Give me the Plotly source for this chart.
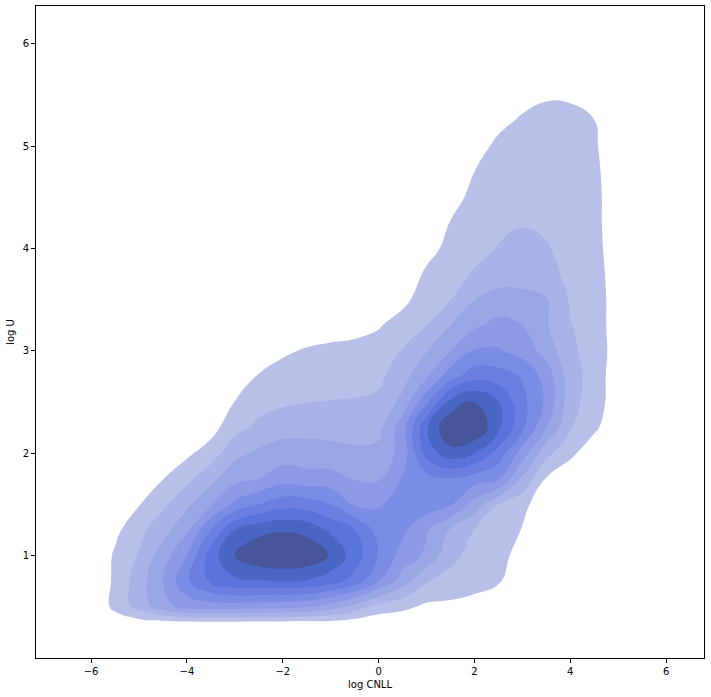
import plotly.graph_objects as go

# grid of the density surface (level units, 1..9 are the contour levels)
x_grid = [-6.5, -6.0, -5.5, -5.0, -4.5, -4.0, -3.5, -3.0, -2.5, -2.0, -1.5, -1.0, -0.5,
          0.0, 0.5, 1.0, 1.5, 2.0, 2.5, 3.0, 3.5, 4.0, 4.5, 5.0, 5.5, 6.0]
y_grid = [0.0, 0.25, 0.5, 0.75, 1.0, 1.25, 1.5, 1.75, 2.0, 2.25, 2.5, 2.75, 3.0,
          3.25, 3.5, 3.75, 4.0, 4.25, 4.5, 4.75, 5.0, 5.25, 5.5, 5.75]

d_000 = [0, 0, 0, 0, 0, 0, 0, 0, 0, 0, 0, 0, 0, 0, 0, 0, 0, 0, 0, 0, 0, 0, 0, 0, 0, 0]
d_025 = [0, 0, -0.3, -0.5, -1.2, -1.5, -1.5, -1.5, -1.5, -1.5, -1.5, -1.0, -0.8, -0.5, -0.3, 0, 0, 0, 0, 0, 0, 0, 0, 0, 0, 0]
d_050 = [0, 0, 1.3, 2.4, 3.6, 4.4, 4.5, 4.5, 4.4, 4.3, 4.1, 3.5, 2.6, 1.6, 1.25, 0.8, 0.75, 0.6, 0.2, 0, 0, 0, 0, 0, 0, 0]
d_075 = [0, 0, 1.2, 2.5, 4.05, 5.8, 7.2, 7.8, 7.9, 8.0, 7.9, 7.4, 6.6, 5.0, 3.5, 2.05, 1.7, 1.4, 1.1, 0.3, 0, 0, 0, 0, 0, 0]
d_100 = [0, 0, 1.15, 2.1, 3.5, 5.0, 7.5, 9.0, 9.8, 10.0, 9.8, 8.9, 7.5, 5.9, 4.6, 3.8, 2.25, 1.7, 1.35, 0.6, 0, 0, 0, 0, 0, 0]
d_125 = [0, 0, 0.75, 1.7, 2.6, 3.8, 6.0, 8.0, 8.7, 8.9, 8.7, 7.8, 7.0, 5.6, 5.2, 4.1, 2.9, 1.95, 1.5, 0.95, 0.2, 0, 0, 0, 0, 0]
d_150 = [0, 0, 0.2, 0.95, 1.8, 2.8, 3.9, 5.3, 6.0, 6.6, 6.5, 6.0, 4.9, 4.9, 5.4, 5.6, 5.1, 3.6, 2.0, 1.3, 0.3, 0, 0, 0, 0, 0]
d_175 = [0, 0, 0, 0.3, 0.98, 1.75, 2.7, 3.7, 4.0, 4.6, 4.4, 4.4, 3.95, 3.9, 5.1, 5.6, 5.9, 5.5, 5.1, 2.8, 0.9, 0.2, 0, 0, 0, 0]
d_200 = [0, 0, 0, 0, 0.3, 0.8, 1.5, 2.7, 3.2, 3.5, 3.4, 3.3, 3.2, 3.3, 4.4, 7.4, 8.6, 8.0, 6.6, 4.5, 2.3, 1.25, 0.3, 0, 0, 0]
d_225 = [0, 0, 0, 0, 0, 0.1, 0.6, 1.7, 2.2, 2.6, 2.7, 2.7, 2.6, 2.7, 4.6, 7.9, 10.0, 10.0, 8.2, 6.2, 4.0, 2.1, 1.2, 0.2, 0, 0]
d_250 = [0, 0, 0, 0, 0, 0, 0, 1.03, 1.7, 1.85, 1.98, 2.03, 2.05, 2.2, 3.3, 5.8, 8.3, 9.1, 8.0, 6.3, 4.8, 2.35, 1.5, 0.4, 0, 0]
d_275 = [0, 0, 0, 0, 0, 0, 0, 0.3, 1.1, 1.4, 1.6, 1.7, 1.75, 1.8, 2.6, 3.9, 5.6, 6.6, 6.5, 5.9, 4.6, 2.45, 1.55, 0.4, 0, 0]
d_300 = [0, 0, 0, 0, 0, 0, 0, 0, 0.3, 0.85, 1.1, 1.25, 1.35, 1.5, 2.05, 2.95, 4.0, 5.1, 5.1, 4.6, 3.6, 2.2, 1.6, 0.5, 0, 0]
d_325 = [0, 0, 0, 0, 0, 0, 0, 0, 0, 0.2, 0.4, 0.5, 0.6, 0.9, 1.5, 2.0, 3.0, 3.8, 4.3, 4.0, 3.1, 2.05, 1.5, 0.5, 0, 0]
d_350 = [0, 0, 0, 0, 0, 0, 0, 0, 0, 0, 0, 0, 0, 0.1, 0.7, 1.6, 2.0, 3.0, 3.4, 3.3, 3.05, 1.9, 1.5, 0.5, 0, 0]
d_375 = [0, 0, 0, 0, 0, 0, 0, 0, 0, 0, 0, 0, 0, 0, 0.4, 1.15, 1.6, 2.1, 2.5, 2.6, 2.35, 1.75, 1.4, 0.5, 0, 0]
d_400 = [0, 0, 0, 0, 0, 0, 0, 0, 0, 0, 0, 0, 0, 0, 0, 0.7, 1.25, 1.7, 2.05, 2.25, 2.1, 1.6, 1.35, 0.4, 0, 0]
d_425 = [0, 0, 0, 0, 0, 0, 0, 0, 0, 0, 0, 0, 0, 0, 0, 0.2, 1.05, 1.5, 1.8, 1.95, 1.8, 1.5, 1.3, 0.35, 0, 0]
d_450 = [0, 0, 0, 0, 0, 0, 0, 0, 0, 0, 0, 0, 0, 0, 0, 0, 0.6, 1.3, 1.55, 1.65, 1.6, 1.45, 1.3, 0.35, 0, 0]
d_475 = [0, 0, 0, 0, 0, 0, 0, 0, 0, 0, 0, 0, 0, 0, 0, 0, 0.2, 1.0, 1.4, 1.5, 1.5, 1.4, 1.25, 0.3, 0, 0]
d_500 = [0, 0, 0, 0, 0, 0, 0, 0, 0, 0, 0, 0, 0, 0, 0, 0, 0, 0.55, 1.25, 1.4, 1.45, 1.35, 1.15, 0.2, 0, 0]
d_525 = [0, 0, 0, 0, 0, 0, 0, 0, 0, 0, 0, 0, 0, 0, 0, 0, 0, 0, 0.7, 1.15, 1.3, 1.25, 1.02, 0, 0, 0]
d_550 = [0, 0, 0, 0, 0, 0, 0, 0, 0, 0, 0, 0, 0, 0, 0, 0, 0, 0, 0, 0.6, 0.9, 0.88, 0.4, 0, 0, 0]
d_575 = [0, 0, 0, 0, 0, 0, 0, 0, 0, 0, 0, 0, 0, 0, 0, 0, 0, 0, 0, 0, 0, 0, 0, 0, 0, 0]

density = [d_000, d_025, d_050, d_075, d_100, d_125, d_150, d_175, d_200, d_225, d_250, d_275,
           d_300, d_325, d_350, d_375, d_400, d_425, d_450, d_475, d_500, d_525, d_550, d_575]

# fill colours, light -> dark
band_colors = ["#b8c0ea", "#aab3e8", "#9ba6e7", "#8c99e6", "#7b8ce4",
               "#6a7fe1", "#5873dc", "#4966c4", "#47569a"]

x_ticks = [-6, -4, -2, 0, 2, 4, 6]
y_ticks = [1, 2, 3, 4, 5, 6]

# below the first level stays white, each band gets its own colour
n = len(band_colors)
colorscale = [[0.0, "#ffffff"]] + [[(i + 1) / n, c] for i, c in enumerate(band_colors)]

fig = go.Figure()
fig.add_trace(go.Contour(
    x=x_grid, y=y_grid, z=density,
    autocontour=False,
    contours=dict(start=1, end=9, size=1, coloring="fill", showlines=False),
    colorscale=colorscale,
    line=dict(width=0, smoothing=1.3),
    showscale=False,
    hoverinfo="skip",
))

axis_style = dict(
    showgrid=False, zeroline=False, automargin=False,
    showline=True, linecolor="black", linewidth=1, mirror=True,
    ticks="outside", ticklen=4, tickwidth=1, tickcolor="black",
    tickfont=dict(size=10, color="black"),
)

fig.update_xaxes(range=[-7.15, 6.79], tickvals=x_ticks,
                 title=dict(text="log CNLL", font=dict(size=10, color="black"), standoff=4),
                 **axis_style)
fig.update_yaxes(range=[0, 6.37], tickvals=y_ticks,
                 title=dict(text="log U", font=dict(size=10, color="black"), standoff=6),
                 **axis_style)

fig.update_layout(
    width=711, height=697,
    margin=dict(l=36, r=7, t=6, b=39),
    paper_bgcolor="white", plot_bgcolor="white",
    font=dict(family="DejaVu Sans", size=10, color="black"),
    showlegend=False,
)

# the page body has a default 8px margin, drop it so the figure sits at the window corner
fig.write_html("out.html", config={"displayModeBar": False},
               post_script="document.body.style.margin='0';")
